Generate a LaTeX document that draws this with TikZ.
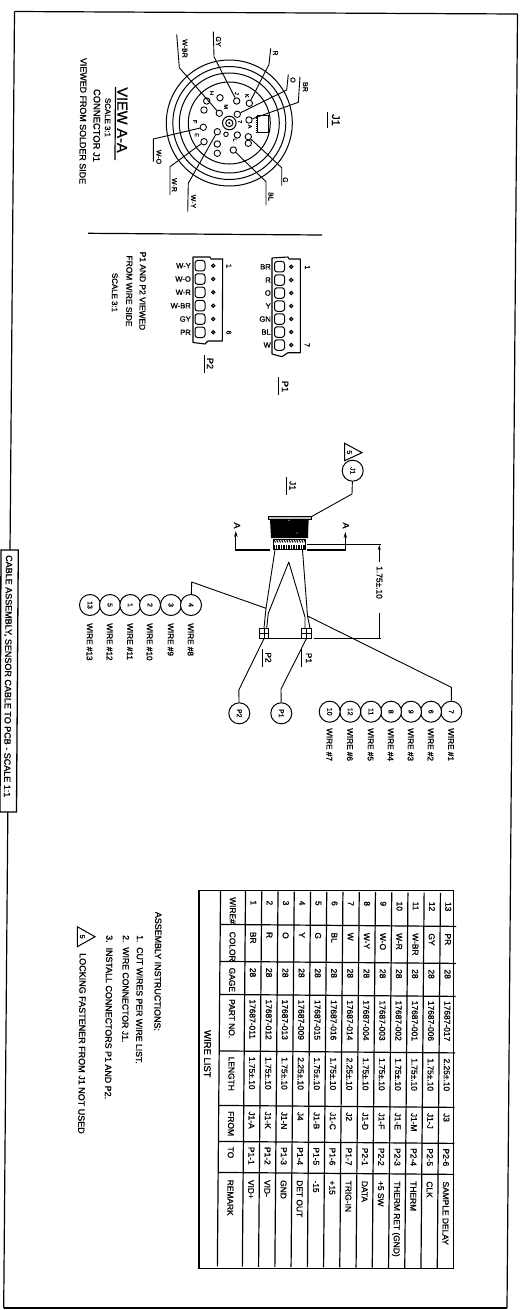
\documentclass[tikz,border=0pt]{standalone}
\usepackage{fontspec}
\setmainfont[FakeBold=1.1]{Liberation Sans}
\usetikzlibrary{arrows.meta}
\tikzset{
  fs/.style={font=\fontsize{#1}{#1}\selectfont},
  lbl/.style={rotate=-90.48,inner sep=0pt,text height=6pt,text depth=0pt,fs=8.4},
  lbls/.style={lbl,anchor=west},
  upr/.style={inner sep=0pt,fs=7.6,anchor=east},
  ln/.style={line width=0.9pt,black},
  thk/.style={line width=1.2pt,black},
  wire/.style={line width=0.9pt,black,line join=round},
  balloon/.style={circle,draw,line width=1pt,minimum size=21pt,inner sep=0pt,fill=white,rotate=-90.48,fs=7},
  pinhole/.style={circle,draw,line width=0.9pt,minimum size=6.4pt,inner sep=0pt,fill=white},
  pinlbl/.style={rotate=-90.48,inner sep=0pt,fs=5.5},
  dotp/.style={circle,draw,line width=0.8pt,minimum size=3.6pt,inner sep=0pt,fill=black!60},
  bump/.style={draw,line width=1pt,rounded corners=2.6pt,minimum width=10pt,minimum height=10.5pt,inner sep=0pt,fill=white},
  ul/.style={line width=1pt,black},
}
\begin{document}
\begin{tikzpicture}[x=1pt,y=-1pt]
\useasboundingbox (0,0) rectangle (524,1310);
\fill[white] (0,0) rectangle (524,1310);
% border
\coordinate (frA) at (14.5,11.5);
\coordinate (frB) at (517.5,14);
\coordinate (frC) at (507,1308);
\coordinate (frD) at (3.7,1308);
\draw[thk] (frA) -- (frB);
\draw[thk] (frB) -- (frC);
\draw[thk] (frC) -- (frD);
\draw[thk] (frD) -- (frA);
% title
\coordinate (tbA) at (1,550);
\coordinate (tbB) at (18.3,550);
\coordinate (tbC) at (16.5,812);
\coordinate (tbD) at (0,812);
\draw[line width=1.3pt,fill=white] (tbA) -- (tbB) -- (tbC) -- (tbD) -- cycle;
\node[lbls,fs=9] (title) at (9,555) {CABLE ASSEMBLY, SENSOR CABLE TO PCB - SCALE 1:1};
% divider
\coordinate (dvA) at (88,233.3);
\coordinate (dvB) at (322,235);
\draw[thk] (dvA) -- (dvB);
% J1 title
\node[lbl,fs=11,text height=8pt] (j1top) at (336,120) {J1};
\coordinate (j1ua) at (327,112); \coordinate (j1ub) at (327,128);
\draw[ul] (j1ua) -- (j1ub);
% view A-A text
\node[lbl,fs=14.5,text height=10.5pt] (viewaa) at (122.5,120) {VIEW A-A};
\coordinate (vua) at (115.5,87); \coordinate (vub) at (115,160);
\draw[line width=1.2pt] (vua) -- (vub);
\node[lbl,fs=7.9] (v1) at (108,117.5) {SCALE 3:1};
\node[lbl,fs=9.4] (v2) at (96.5,125.5) {CONNECTOR J1};
\node[lbl,fs=8.9] (v3) at (83,121) {VIEWED FROM SOLDER SIDE};
% connector view
\coordinate (c) at (229.3,123);
\foreach \r in {63,56.5,50,41}{\draw[line width=1pt] (c) circle[radius=\r];}
\draw[line width=1pt] (c) circle[radius=6.8];
\draw[line width=1pt] (c) circle[radius=3.6];
\fill (c) circle[radius=1.2];
% notch
\draw[line width=1pt,fill=white] (257,115.5) rectangle (268,132);
\foreach \yy in {116,118,...,132}{\draw[line width=.5pt] (255.5,\yy) -- (257.5,\yy);}
% pins
\foreach \nm/\px/\py in {J/236.7/101,K/249.3/103.3,H/220/97.7,M/219.3/113.3,Ua/206.7/101,Ub/204/110,F/203.3/127.3,E/204/141.7,D/217.3/131.7,Uc/217.3/144,Ud/217.3/153.3,BL/233.3/150,L/237.3/135,G/248.3/143.3,Ge/248.3/136.7,O/237.3/114.3,A/249/120}{
  \node[pinhole] (p\nm) at (\px,\py) {};
}
\node[pinhole,minimum size=4.5pt] (pSm) at (226,134.3) {};
\foreach \nm/\t/\px/\py in {a/F/195/121.7,b/E/196.7/135,c/H/211.7/93,d/J/236.7/93.5,e/K/247/95.7,f/M/226/106.7,g/L/235/140,h/A/250/126.5,i/7/240/121.7}{
  \node[pinlbl] (ll\nm) at (\px,\py) {\t};
}
% wires
\foreach \nm/\ax/\ay/\bx/\by/\pn in {gy/213.3/31.7/214/56.7/pJ,wbr/176.7/34.3/179.3/67.7/pM,r/270.7/48.3/269/64.3/pK,o/288.3/74.3/286.7/90/pO,br/300/76.7/298.3/102.3/pA,g/281.7/185.7/281.7/167.7/pGe,bl/266/205/266/181.7/pBL,wy/187.7/211.7/188.3/183.3/pD,wr/170/195/170/166.7/pE,wo/153.3/161.7/153.3/139/pF}{
  \coordinate (w\nm a) at (\ax,\ay);
  \coordinate (w\nm b) at (\bx,\by);
  \draw[wire] (w\nm a) -- (w\nm b) -- (\pn);
}
\node[lbl,fs=7] (tgy) at (219,41.5) {GY};
\node[lbl,fs=7] (twbr) at (185.5,48.5) {W-BR};
\node[lbl,fs=7] (tr) at (276,53) {R};
\node[lbl,fs=7] (to) at (293.5,80) {O};
\node[lbl,fs=7] (tbr) at (306,87) {BR};
\node[lbl,fs=7] (tg) at (286,180) {G};
\node[lbl,fs=7] (tbl) at (271.5,196.5) {BL};
\node[lbl,fs=7] (twy) at (194,201.5) {W-Y};
\node[lbl,fs=7] (twr) at (175,185) {W-R};
\node[lbl,fs=7] (two) at (159.5,157) {W-O};
% P2 connector
\draw[line width=1.1pt,line join=round] (193,257) -- (210,257) -- (211,259) -- (222.7,259) -- (222.3,341) -- (208,341) -- (205,344) -- (193,342.5) -- cycle;
\foreach \yy/\t [count=\k] in {265.7/W-Y,279/W-O,292.3/W-R,305.7/W-BR,319/GY,332.3/PR}{
  \node[bump] (p2b\k) at (200,\yy) {};
  \node[dotp] (p2d\k) at (213.3,\yy) {};
  \node[upr] (p2t\k) at (191,\yy) {\t};
}
\node[lbl,fs=7] (p2n1) at (229.5,266) {1};
\node[lbl,fs=7] (p2n6) at (229.5,332.5) {6};
\node[lbl,fs=9] (p2lb) at (210,363.5) {P2};
\coordinate (p2ua) at (204,355); \coordinate (p2ub) at (204,373);
\draw[ul] (p2ua) -- (p2ub);
% P1 connector
\draw[line width=1.1pt,line join=round] (272,258) -- (288,257) -- (289,259) -- (300.3,259) -- (300.3,352.7) -- (288,352.7) -- (282,356.7) -- (272,354) -- cycle;
\foreach \yy/\t [count=\k] in {266.7/BR,280/R,293/O,306/Y,319/GN,332/BL,345/W}{
  \node[bump] (p1b\k) at (279.5,\yy) {};
  \node[dotp] (p1d\k) at (291.3,\yy) {};
  \node[upr] (p1t\k) at (271,\yy) {\t};
}
\node[lbl,fs=7] (p1n1) at (308,267.3) {1};
\node[lbl,fs=7] (p1n7) at (307.7,345) {7};
\node[lbl,fs=9] (p1lb) at (285,386.5) {P1};
\coordinate (p1ua) at (278.7,376.7); \coordinate (p1ub) at (278.7,395);
\draw[ul] (p1ua) -- (p1ub);
% P note
\node[lbl] (pn1) at (142.7,291) {P1 AND P2 VIEWED};
\node[lbl] (pn2) at (129.3,291) {FROM WIRE SIDE};
\node[lbl,fs=7.9] (pn3) at (115,292.5) {SCALE 3:1};
% assembly
\node[lbl,fs=9] (asj1) at (292.5,485.5) {J1};
\coordinate (asua) at (286,477); \coordinate (asub) at (286,495);
\draw[ul] (asua) -- (asub);
% cable
\coordinate (capex) at (288.8,562);
\coordinate (loA) at (275,550); \coordinate (loB) at (266,608.3); \coordinate (loC) at (264,628);
\coordinate (roA) at (302.5,550); \coordinate (roB) at (307.5,616); \coordinate (roC) at (310,628);
\draw[wire] (loA) -- (loB) -- (loC);
\draw[wire] (roA) -- (roB) -- (roC);
\draw[wire] (266.7,628) -- (268.3,613.3) -- (capex) -- (305,617) -- (305,628);
% connector J1 body
\draw[line width=1pt,fill=black!25] (268.3,516) rectangle (311,519.5);
\fill[black] (270,519) -- (308.7,519) -- (308,538) -- (271,538) -- cycle;
\foreach \xx/\yy in {269.5/524,269.5/530,309/524,309/530,289/520.3,297/533}{\fill[white] (\xx,\yy) circle[radius=.6];}
\draw[line width=1pt,fill=white] (273,539) rectangle (305,549.5);
\foreach \xx in {274,276.5,...,304}{\draw[line width=.9pt] (\xx,539.5) -- (\xx+1.5,542.5);\draw[line width=1.4pt] (\xx,545) -- (\xx,549);}
% blocks
\node[draw,line width=1pt,minimum width=9pt,minimum height=10pt,inner sep=0pt,fill=white] (blkP2) at (264,633) {};
\node[draw,line width=1pt,minimum width=10pt,minimum height=10pt,inner sep=0pt,fill=white] (blkP1) at (306.5,633) {};
\foreach \bb in {blkP2,blkP1}{\draw[line width=.9pt] (\bb.north) -- (\bb.south); \draw[line width=.9pt] (\bb.west) -- (\bb.east);}
\draw[ln] (blkP2.south east) -- (blkP1.south west);
% section arrows
\coordinate (saA) at (270,550); \coordinate (saB) at (235.8,550); \coordinate (saC) at (235.8,531);
\draw[line width=1.1pt,-{Stealth[length=6pt,width=3.4pt]}] (saA) -- (saB) -- (saC);
\node[lbl,fs=9] (saT) at (237,525.5) {A};
\coordinate (sbA) at (307,550); \coordinate (sbB) at (345.3,550); \coordinate (sbC) at (345.3,532);
\draw[line width=1.1pt,-{Stealth[length=6pt,width=3.4pt]}] (sbA) -- (sbB) -- (sbC);
\node[lbl,fs=9] (sbT) at (345.8,525.5) {A};
% dimension
\coordinate (daA) at (307,544); \coordinate (daB) at (381,544);
\coordinate (dbA) at (313.7,638.3); \coordinate (dbB) at (381,638.3);
\draw[ln] (daA) -- (daB);
\draw[ln] (dbA) -- (dbB);
\node[lbl] (dimt) at (379.5,582.5) {1.75±.10};
\coordinate (dmA) at (379.3,545); \coordinate (dmB) at (379.3,562);
\coordinate (dmC) at (379.3,612.7); \coordinate (dmD) at (379.3,638);
\draw[ln,{Stealth[length=5pt,width=3pt]}-] (dmA) -- (dmB);
\draw[ln] (dmC) -- (dmD);
% J1 balloon
\node[balloon] (bJ1) at (352.7,470.7) {J1};
\coordinate (bJ1b) at (352,494); \coordinate (bJ1e) at (311.3,516.7);
\draw[wire] (bJ1) -- (bJ1b) -- (bJ1e);
\coordinate (tr1a) at (344.7,443.3); \coordinate (tr1b) at (362,452.7); \coordinate (tr1c) at (344.7,460.7);
\draw[line width=1pt,line join=miter] (tr1a) -- (tr1b) -- (tr1c) -- cycle;
\node[lbl,fs=7] (tr1t) at (350,452.3) {5};
% balloon rows
\foreach \bx/\n/\w in {90/13/13,110/5/12,130.3/1/11,150/2/10,171/3/9,191/4/8}{
  \node[balloon] (bw\w) at (\bx,605) {\n};
  \node[lbls,fs=8.2] (tw\w) at (\bx,623) {WIRE \#\w};
}
\foreach \bx/\n/\w in {451.3/7/1,431/6/2,411/9/3,391/8/4,371/11/5,350.3/12/6,329.7/10/7}{
  \node[balloon] (bw\w) at (\bx,711.7) {\n};
  \node[lbls,fs=8.2] (tw\w) at (\bx,728) {WIRE \#\w};
}
\coordinate (l4b) at (191.7,582);
\draw[wire] (bw8) -- (l4b) -- (loB);
\coordinate (l7b) at (451.3,687.3);
\draw[wire] (bw1) -- (l7b) -- (roB);
% P balloons
\node[balloon] (bP2) at (239.3,713.3) {P2};
\node[balloon] (bP1) at (281.3,713.3) {P1};
\coordinate (bP2b) at (238.8,690); \coordinate (bP1b) at (281,689);
\draw[wire] (bP2) -- (bP2b) -- (blkP2.south);
\draw[wire] (bP1) -- (bP1b) -- (blkP1.south);
\node[lbl,fs=8.2] (lP2) at (268.5,657.5) {P2};
\node[lbl,fs=8.2] (lP1) at (309,658) {P1};
\coordinate (lP2a) at (262.3,649); \coordinate (lP2b) at (262.3,667);
\coordinate (lP1a) at (301.5,649); \coordinate (lP1b) at (301.5,667);
\draw[ul] (lP2a) -- (lP2b);
\draw[ul] (lP1a) -- (lP1b);
% instructions
\node[lbls,fs=8.9] (a0) at (158.3,911.7) {ASSEMBLY INSTRUCTIONS:};
\node[lbls,fs=8.7] (a1) at (140,935) {1.\ \ CUT WIRES PER WIRE LIST.};
\node[lbls,fs=8.7] (a2) at (126,935) {2.\ \ WIRE CONNECTOR J1.};
\node[lbls,fs=8.9] (a3) at (109.3,935) {3.\ \ INSTALL CONNECTORS P1 AND P2.};
\coordinate (tr2a) at (77.3,926.7); \coordinate (tr2b) at (95,936.7); \coordinate (tr2c) at (77.3,946.7);
\draw[line width=1pt,line join=miter] (tr2a) -- (tr2b) -- (tr2c) -- cycle;
\node[lbl,fs=7] (tr2t) at (83,936.7) {5};
\node[lbls,fs=9] (a5) at (82.7,953) {LOCKING FASTENER FROM J1 NOT USED};
% table
\begin{scope}[x={(1pt,-0.0084pt)},y={(-0.0084pt,-1pt)}]
\draw[line width=1.4pt] (206.5,889) rectangle (464,1264.5);
\foreach \u in {228,253,269.2,285.5,301.7,318,334.2,350.4,366.7,382.9,399.2,415.4,431.6,447.9}{
  \draw[line width=1.2pt] (\u,889) -- (\u,1264.5);
}
\foreach \v in {922.5,959.5,992.5,1049,1103.5,1139.5,1170.5}{
  \draw[line width=1.2pt] (228,\v) -- (464,\v);
}
\node[lbl,fs=9.5,text height=7pt] (ttl) at (216.5,1052) {WIRE LIST};
\foreach \v/\t/\nm in {895/WIRE\#/a,929.5/COLOR/b,965.5/GAGE/c,997/PART NO./d,1054.5/LENGTH/e,1109/FROM/f,1144.5/TO/g,1177.5/REMARK/h}{
  \node[lbls] (hd\nm) at (240.5,\v) {\t};
}
\foreach \col/\part/\len/\frm/\tov/\rem [count=\k] in {
 BR/17687-011/1.75±.10/J1-A/P1-1/VID+,
 R/17687-012/1.75±.10/J1-K/P1-2/VID-,
 O/17687-013/1.75±.10/J1-N/P1-3/GND,
 Y/17687-009/2.25±.10/J4/P1-4/DET OUT,
 G/17687-015/1.75±.10/J1-B/P1-5/-15,
 BL/17687-016/1.75±.10/J1-C/P1-6/+15,
 W/17687-014/2.25±.10/J2/P1-7/TRIG-IN,
 W-Y/17687-004/1.75±.10/J1-D/P2-1/DATA,
 W-O/17687-003/1.75±.10/J1-F/P2-2/+5 SW,
 W-R/17687-002/1.75±.10/J1-E/P2-3/THERM RET (GND),
 W-BR/17687-001/1.75±.10/J1-M/P2-4/THERM,
 GY/17687-006/1.75±.10/J1-J/P2-5/CLK,
 PR/17687-017/2.25±.10/J3/P2-6/SAMPLE DELAY}{
  \pgfmathsetmacro{\uu}{253+(\k-0.5)*16.23}
  \node[lbls] (cn\k) at (\uu,898) {\k};
  \node[lbls] (cc\k) at (\uu,929.5) {\col};
  \node[lbls] (cg\k) at (\uu,965.5) {28};
  \node[lbls] (cp\k) at (\uu,997) {\part};
  \node[lbls] (cl\k) at (\uu,1054.5) {\len};
  \node[lbls] (cf\k) at (\uu,1109) {\frm};
  \node[lbls] (ct\k) at (\uu,1144.5) {\tov};
  \node[lbls] (cr\k) at (\uu,1177.5) {\rem};
}
\end{scope}
\end{tikzpicture}
\end{document}
